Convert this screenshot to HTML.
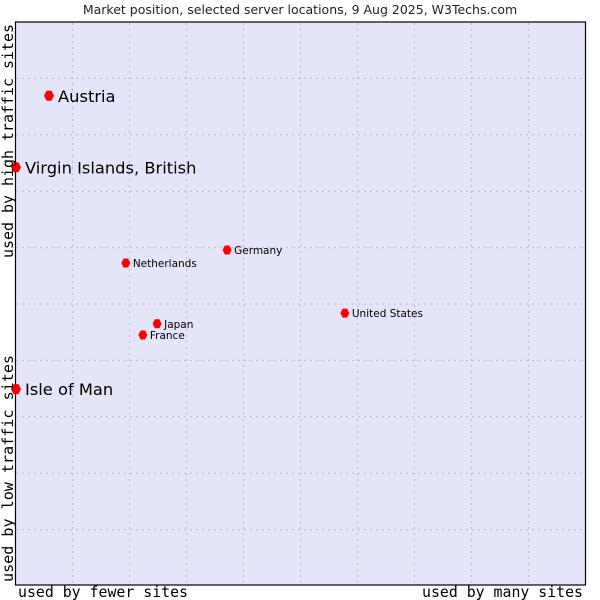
<!DOCTYPE html>
<html><head><meta charset="utf-8"><style>
body{margin:0;background:#fff;}
svg{display:block;}
</style></head><body>
<svg id="chart" width="600" height="600" xmlns="http://www.w3.org/2000/svg">
<text x="300" y="14" text-anchor="middle" font-family="DejaVu Sans, sans-serif" font-size="12.5" fill="#222">Market position, selected server locations, 9 Aug 2025, W3Techs.com</text>
<rect x="15.5" y="22" width="570" height="563" fill="#e4e5f8" stroke="#000" stroke-width="1.2"/>
<g id="grid"></g>
<g id="points"></g>
<text x="18" y="597" textLength="170" lengthAdjust="spacingAndGlyphs" font-family="DejaVu Sans Mono, monospace" font-size="15" fill="#000">used by fewer sites</text>
<text x="422" y="597" textLength="161" lengthAdjust="spacingAndGlyphs" font-family="DejaVu Sans Mono, monospace" font-size="15" fill="#000">used by many sites</text>
<text transform="translate(13,258) rotate(-90)" textLength="234" lengthAdjust="spacingAndGlyphs" font-family="DejaVu Sans Mono, monospace" font-size="15" fill="#000">used by high traffic sites</text>
<text transform="translate(13,582) rotate(-90)" textLength="227" lengthAdjust="spacingAndGlyphs" font-family="DejaVu Sans Mono, monospace" font-size="15" fill="#000">used by low traffic sites</text>
</svg>
<script>
const names=["Austria","Virgin Islands, British","Isle of Man","Netherlands","Germany","United States","Japan","France"];
const xVals=[5.8,0,0,19.3,37.1,57.8,24.8,22.3];
const yVals=[86.9,74.2,34.8,57.2,59.5,48.3,46.4,44.4];
const big=[true,true,true,false,false,false,false,false];
const ns="http://www.w3.org/2000/svg";
const X0=16,X1=585,Y0=585,Y1=22;
const sx=v=>X0+v/100*(X1-X0);
const sy=v=>Y0-v/100*(Y0-Y1);
const grid=document.getElementById('grid');
for(let i=1;i<10;i++){
  const x=15.5+i*57;
  const l=document.createElementNS(ns,'line');
  
  
  l.setAttribute('x1',x);l.setAttribute('x2',x);l.setAttribute('y1',23);l.setAttribute('y2',584);
  l.setAttribute('stroke','#bbb');l.setAttribute('stroke-dasharray','2,4');
  grid.appendChild(l);
  const y=22+i*56.4;
  const h=document.createElementNS(ns,'line');
  
  
  h.setAttribute('x1',16);h.setAttribute('x2',585);h.setAttribute('y1',y);h.setAttribute('y2',y);
  h.setAttribute('stroke','#bbb');h.setAttribute('stroke-dasharray','2,4');
  grid.appendChild(h);
}
const pts=document.getElementById('points');
names.forEach((n,i)=>{
  const x=sx(xVals[i]),y=sy(yVals[i]);
  const p=document.createElementNS(ns,'polygon');
  
  
  const r=big[i]?5:4.5;
  p.setAttribute('points',`${x-r},${y} ${x-r/2},${y-r} ${x+r/2},${y-r} ${x+r},${y} ${x+r/2},${y+r} ${x-r/2},${y+r}`);
  p.setAttribute('fill','#f00');
  pts.appendChild(p);
  const t=document.createElementNS(ns,'text');
  
  
  t.setAttribute('x',x+(big[i]?9:7));
  t.setAttribute('y',y+(big[i]?6:4));
  t.setAttribute('font-family','DejaVu Sans, sans-serif');
  t.setAttribute('font-size',big[i]?'16.3':'10.5');
  t.setAttribute('fill','#000');
  t.textContent=n;
  pts.appendChild(t);
});
</script>
</body></html>
